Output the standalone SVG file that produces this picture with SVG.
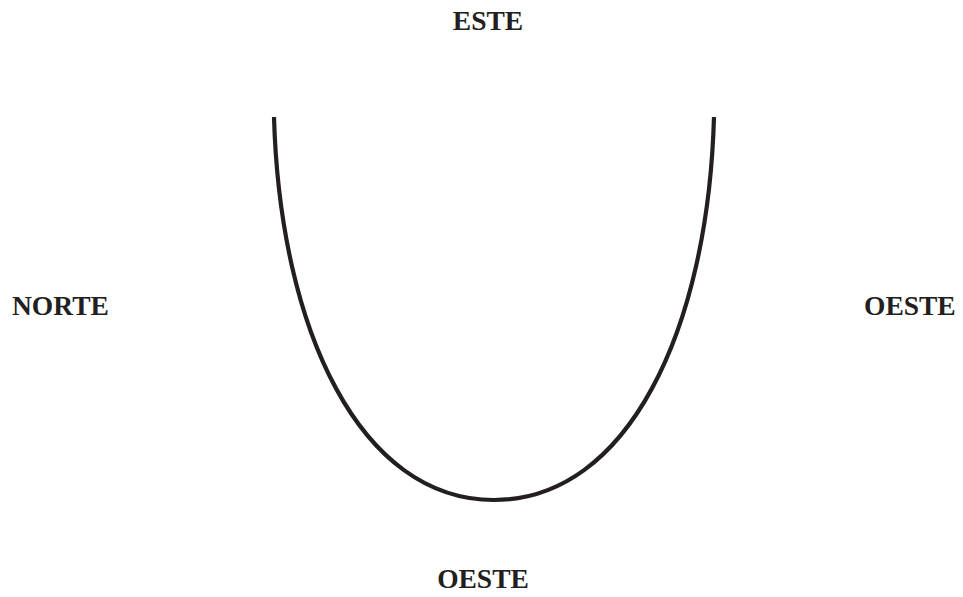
<svg xmlns="http://www.w3.org/2000/svg" width="963" height="597" viewBox="0 0 963 597">
  <style>
    .lbl { font-family: "Liberation Serif", "DejaVu Serif", serif; font-weight: bold; font-size: 27.5px; fill: #231f20; }
    .curve { fill: none; stroke: #231f20; stroke-width: 4.2; }
  </style>
  <rect width="963" height="597" fill="#ffffff"/>
  <g id="connectors">
    <path class="curve" d="M274,117 C280,330 360,500 494,500 C628,500 708,330 714,117"/>
  </g>
  <g id="este"><text class="lbl" x="488" y="30" text-anchor="middle">ESTE</text></g>
  <g id="norte"><text class="lbl" x="12" y="315">NORTE</text></g>
  <g id="oeste-right"><text class="lbl" x="864" y="315">OESTE</text></g>
  <g id="oeste-bottom"><text class="lbl" x="483" y="588" text-anchor="middle">OESTE</text></g>
</svg>
